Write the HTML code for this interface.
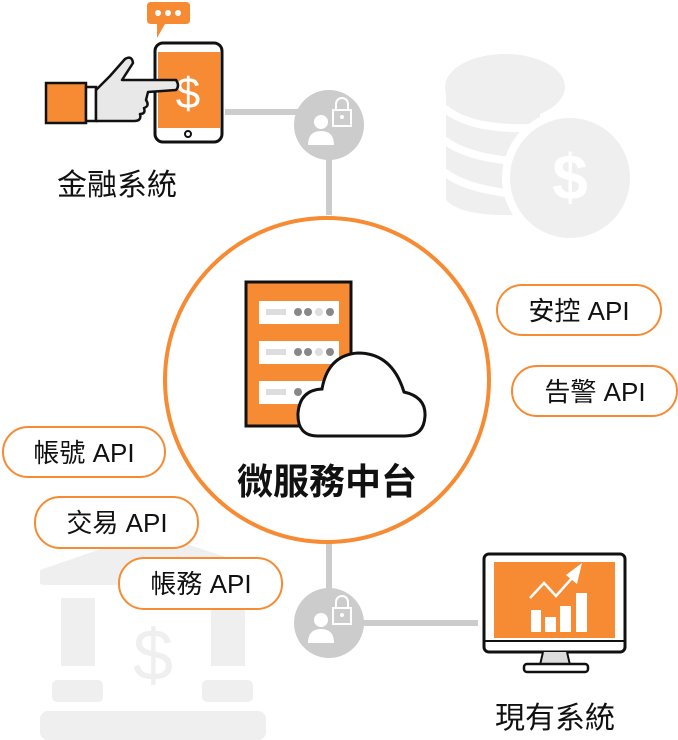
<!DOCTYPE html>
<html><head><meta charset="utf-8"><style>
html,body{margin:0;padding:0;background:#fff;}
svg{display:block}
text{font-family:"Liberation Sans","Noto Sans CJK TC",sans-serif;}
</style></head><body>
<svg width="678" height="740" viewBox="0 0 678 740" xmlns="http://www.w3.org/2000/svg">
<!-- coins bg -->
<g fill="#efefef">
<path d="M446 87 L446 200 Q460 215 505 215 L540 215 L540 87 Z"/>
</g>
<g stroke="#fff" stroke-width="8" fill="none">
<path d="M444 108 Q470 130 530 128"/>
<path d="M444 140 Q470 160 530 162"/>
<path d="M444 172 Q470 192 530 195"/>
</g>
<g fill="#efefef">
<ellipse cx="505" cy="87" rx="60" ry="33"/>
</g>
<circle cx="570" cy="178" r="68" fill="#fff"/>
<circle cx="570" cy="178" r="60" fill="#efefef"/>
<text x="570" y="199" font-size="64" font-weight="bold" fill="#fff" text-anchor="middle">$</text>
<!-- bank bg -->
<g fill="#efefef">
<path d="M40 575 L40 583 Q40 585 45 585 L265 585 L265 570 L150 532 L40 570 Z"/>
<rect x="61" y="598" width="34" height="68"/>
<rect x="211" y="598" width="34" height="68"/>
<rect x="52" y="680" width="51" height="22" rx="5"/>
<rect x="202" y="680" width="51" height="22" rx="5"/>
<rect x="40" y="711" width="226" height="29" rx="8"/>
</g>
<text x="153" y="680" font-size="72" fill="#efefef" text-anchor="middle">$</text>
<!-- connectors -->
<g stroke="#cccccc" stroke-width="6" fill="none">
<line x1="225" y1="112" x2="300" y2="112"/>
<line x1="329" y1="150" x2="329" y2="215"/>
<line x1="329" y1="543" x2="329" y2="600"/>
<line x1="355" y1="623" x2="478" y2="623"/>
</g>
<g>
<circle cx="329" cy="125" r="35" fill="#cccccc"/>
<circle cx="321" cy="122" r="7" fill="#fff"/>
<path d="M308 145 Q308 131 321 131 Q334 131 334 145 Z" fill="#fff"/>
<rect x="333" y="110" width="18" height="16" fill="none" stroke="#fff" stroke-width="2"/>
<path d="M336 110 V104 A6 6 0 0 1 348 104 V110" fill="none" stroke="#fff" stroke-width="2"/>
<circle cx="342" cy="117" r="2" fill="#fff"/>
<circle cx="329" cy="623" r="35" fill="#cccccc"/>
<circle cx="321" cy="620" r="7" fill="#fff"/>
<path d="M308 643 Q308 629 321 629 Q334 629 334 643 Z" fill="#fff"/>
<rect x="333" y="608" width="18" height="16" fill="none" stroke="#fff" stroke-width="2"/>
<path d="M336 608 V602 A6 6 0 0 1 348 602 V608" fill="none" stroke="#fff" stroke-width="2"/>
<circle cx="342" cy="615" r="2" fill="#fff"/>
</g>
<!-- big circle -->
<circle cx="327" cy="380" r="162" fill="#fff" stroke="#f68b33" stroke-width="4"/>
<!-- server -->
<rect x="246" y="282" width="105" height="144" fill="#f68b33" stroke="#111" stroke-width="3"/>
<g fill="#fff"><rect x="259" y="301" width="80" height="23"/><rect x="259" y="341" width="80" height="23"/><rect x="259" y="381" width="80" height="23"/></g>
<g fill="#ddd"><rect x="266" y="309" width="20" height="6"/><rect x="266" y="349" width="20" height="6"/><rect x="266" y="389" width="20" height="6"/></g>
<g fill="#888"><circle cx="298" cy="312" r="4"/><circle cx="308" cy="312" r="4"/><circle cx="330" cy="312" r="4"/>
<circle cx="298" cy="352" r="4"/><circle cx="308" cy="352" r="4"/><circle cx="330" cy="352" r="4"/><circle cx="298" cy="392" r="4"/></g>
<g fill="#ddd"><circle cx="319" cy="312" r="4"/><circle cx="319" cy="352" r="4"/></g>
<path d="M318 436 Q297 436 298 413 Q300 390 322 389 Q328 355 358 353 Q392 353 404 392 Q426 397 425 416 Q424 436 405 436 Z" fill="#fff" stroke="#111" stroke-width="3"/>
<text x="327" y="494" font-size="36" font-weight="bold" fill="#111" text-anchor="middle">微服務中台</text>
<!-- pills -->
<g fill="#fff" stroke="#f68b33" stroke-width="2">
<rect x="497" y="285" width="164" height="50" rx="25"/>
<rect x="512" y="366" width="165" height="50" rx="25"/>
<rect x="3" y="427" width="162" height="50" rx="25"/>
<rect x="35" y="497" width="163" height="51" rx="25"/>
<rect x="119" y="558" width="163" height="51" rx="25"/>
</g>
<g font-size="26" fill="#111" text-anchor="middle">
<text x="579" y="320">安控 API</text>
<text x="595" y="401">告警 API</text>
<text x="84" y="462">帳號 API</text>
<text x="117" y="532">交易 API</text>
<text x="201" y="593">帳務 API</text>
</g>
<!-- monitor -->
<rect x="484" y="554" width="141" height="98" rx="5" fill="#fff" stroke="#111" stroke-width="3"/>
<rect x="494" y="562" width="121" height="76" fill="#f68b33"/>
<line x1="484" y1="641" x2="625" y2="641" stroke="#111" stroke-width="2"/>
<path d="M543 652 L540 665 L570 665 L567 652" fill="#ddd" stroke="#111" stroke-width="2"/>
<rect x="524" y="664" width="64" height="8" rx="3" fill="#fff" stroke="#111" stroke-width="2.5"/>
<g fill="#fff"><rect x="531" y="610" width="10" height="22"/><rect x="545" y="617" width="11" height="15"/><rect x="560" y="606" width="11" height="26"/><rect x="576" y="593" width="11" height="39"/></g>
<polyline points="530,598 544,583 556,596 572,578" fill="none" stroke="#fff" stroke-width="2.5"/>
<polygon points="566,575 582,563 577,584" fill="#fff"/>
<text x="555" y="728" font-size="30" fill="#111" text-anchor="middle">現有系統</text>
<!-- bubble -->
<path d="M151 2 H186 Q190 2 190 6 V20 Q190 24 186 24 H165 L157 38 L157 24 H151 Q147 24 147 20 V6 Q147 2 151 2 Z" fill="#f68b33"/>
<g fill="#fff"><circle cx="158" cy="13" r="3"/><circle cx="168" cy="13" r="3"/><circle cx="178" cy="13" r="3"/></g>
<!-- phone -->
<rect x="155" y="43" width="67" height="99" rx="8" fill="#fff" stroke="#111" stroke-width="3"/>
<rect x="158" y="52" width="62" height="76" fill="#f68b33"/>
<circle cx="188" cy="134" r="3" fill="#fff" stroke="#111" stroke-width="2"/>
<text x="188" y="108" font-size="44" fill="#fff" text-anchor="middle">$</text>
<!-- hand -->
<rect x="46" y="83" width="40" height="40" fill="#f68b33" stroke="#111" stroke-width="2.5"/>
<rect x="86" y="87" width="10" height="34" fill="#fff" stroke="#111" stroke-width="2.5"/>
<path d="M96 90 L110 76 L125 59 Q132 55 133 63 L122 80 L176 80 Q180 86 176 90 L148 92 L146 100 Q150 106 144 108 Q146 114 140 114 Q142 121 134 121 L96 121 Z" fill="#e8e8e8" stroke="#111" stroke-width="2.5" stroke-linejoin="round"/>
<text x="117" y="195" font-size="30" fill="#111" text-anchor="middle">金融系統</text>
</svg>
</body></html>
